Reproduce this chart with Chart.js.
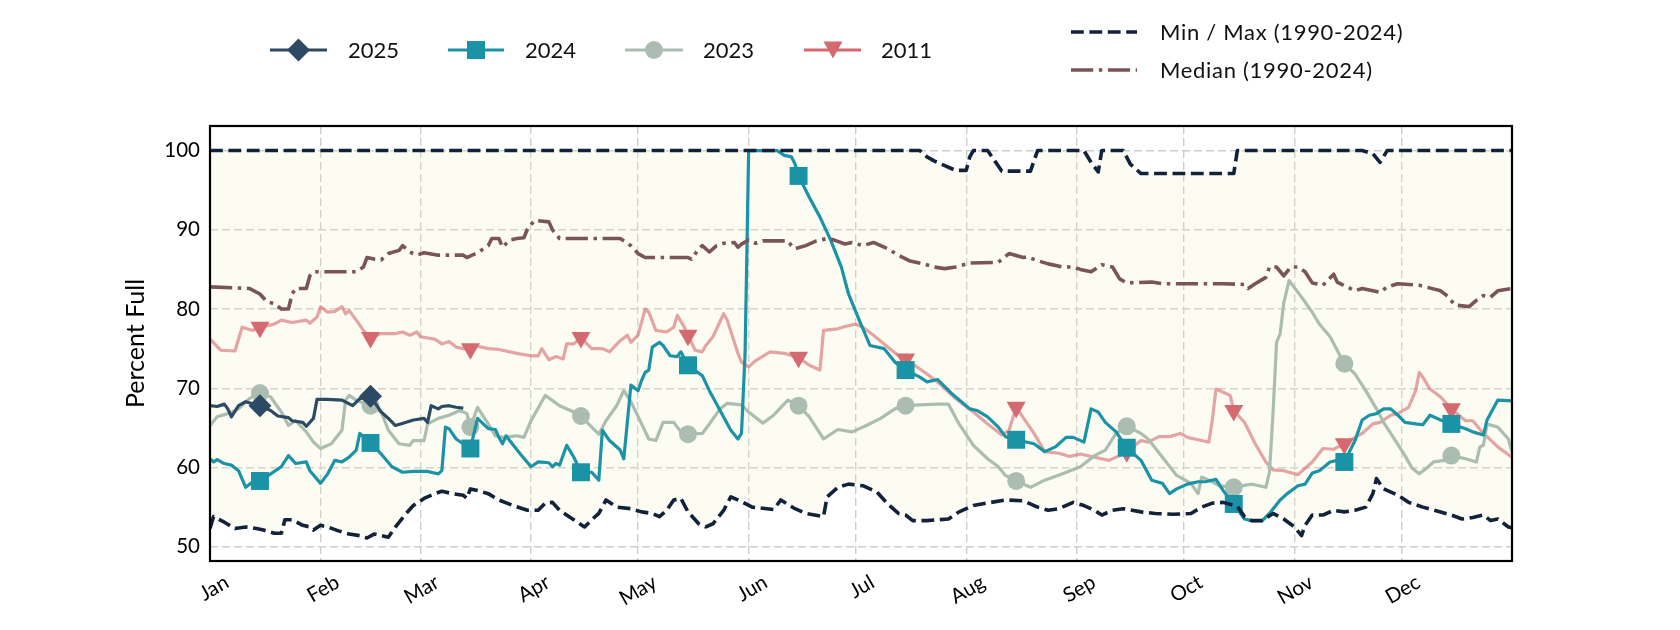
<!DOCTYPE html>
<html>
<head>
<meta charset="utf-8">
<script src="https://cdn.jsdelivr.net/npm/chart.js@4.4.1/dist/chart.umd.min.js"></script>
<style>
  html, body { margin: 0; padding: 0; background: #fff; }
  #wrap { position: relative; width: 1680px; height: 630px; font-family: Lato, sans-serif; }
  #canvas { position: absolute; left: 0; top: 0; }
  #sym { position: absolute; left: 0; top: 0; }
  .lg { position: absolute; font-size: 22px; line-height: 26px; color: #111; white-space: nowrap; }
  .wide { letter-spacing: 0.7px; }
</style>
</head>
<body>
<div id="wrap">
  <canvas id="canvas" width="1680" height="630"></canvas>
  <svg id="sym" width="1680" height="100">
    <line x1="270" y1="50" x2="327" y2="50" stroke="#2c4a63" stroke-width="3.2"/>
    <polygon points="298.5,38.5 310,50 298.5,61.5 287,50" fill="#2c4a63"/>
    <line x1="448" y1="50" x2="504" y2="50" stroke="#1b93a6" stroke-width="3.2"/>
    <rect x="467" y="41" width="18" height="18" fill="#1b93a6"/>
    <line x1="625" y1="50" x2="683" y2="50" stroke="#abbdb1" stroke-width="3.2"/>
    <circle cx="654" cy="50" r="9" fill="#abbdb1"/>
    <line x1="804" y1="50" x2="861" y2="50" stroke="#d4696f" stroke-width="3.2"/>
    <polygon points="823.5,41.5 842.5,41.5 833,58.5" fill="#d4696f"/>
    <line x1="1071" y1="32" x2="1137" y2="32" stroke="#12223a" stroke-width="3.6" stroke-dasharray="12.8 5.6"/>
    <line x1="1071" y1="70" x2="1137" y2="70" stroke="#7b5459" stroke-width="3.6" stroke-dasharray="22.2 5.6 3.5 5.6"/>
  </svg>
  <div class="lg" style="left:348px;top:37px">2025</div>
  <div class="lg" style="left:525px;top:37px">2024</div>
  <div class="lg" style="left:703px;top:37px">2023</div>
  <div class="lg" style="left:881px;top:37px">2011</div>
  <div class="lg wide" style="left:1160px;top:19px">Min / Max (1990-2024)</div>
  <div class="lg wide" style="left:1160px;top:57px">Median (1990-2024)</div>
</div>
<script>
// month ticks on a day-of-year axis
const monthStarts = [0, 31, 59, 90, 120, 151, 181, 212, 243, 273, 304, 334];
const monthLabels = ['Jan', 'Feb', 'Mar', 'Apr', 'May', 'Jun', 'Jul', 'Aug', 'Sep', 'Oct', 'Nov', 'Dec'];
const yTicks = [50, 60, 70, 80, 90, 100];
// markers sit on the 15th of each month
const markerDays = [14, 45, 73, 104, 134, 165, 195, 226, 257, 287, 318, 348];

// [day of year, percent full]
const maxLine = [[0,100],[199,100],[201,99.2],[203,98.7],[206,98.1],[209,97.5],[212,97.5],[213,99.2],[214,100],[218,100],[220,98.7],[222,97.4],[230,97.4],[232,100],[245,100],[247,98.5],[249,97.3],[250,100],[256,100],[258,98.3],[261,97.1],[287,97.1],[288,100],[323,100],[326,99.6],[328,98.5],[330,100],[365,100]];

const minLine = [[0,52.3],[1,53.8],[4,53.1],[7,52.3],[10,52.5],[13,52.3],[15,52.1],[18,51.7],[20,51.7],[21,53.4],[23,53.4],[26,52.7],[28,52.5],[29,52.1],[31,52.7],[33,52.5],[36,52.0],[39,51.6],[42,51.4],[44,51.1],[46,51.6],[48,51.4],[50,51.2],[52,52.5],[55,54.2],[57,55.2],[60,56.1],[63,56.7],[65,57.0],[68,56.7],[71,56.5],[72,56.1],[73,57.3],[75,57.1],[78,56.7],[81,55.9],[85,55.2],[89,54.6],[92,54.6],[94,55.5],[96,55.6],[98,54.6],[101,53.7],[105,52.5],[107,53.4],[109,54.2],[111,55.9],[114,55.0],[118,54.8],[121,54.4],[124,54.2],[126,53.8],[128,54.6],[130,55.9],[132,56.1],[134,54.4],[137,52.9],[139,52.5],[141,52.9],[144,54.6],[146,56.3],[149,55.7],[152,55.0],[158,54.7],[160,55.9],[164,54.8],[167,54.2],[172,53.8],[173,56.3],[176,57.5],[179,57.9],[183,57.7],[187,56.9],[190,55.4],[193,54.2],[195,54.0],[197,53.3],[201,53.3],[207,53.5],[210,54.4],[214,55.2],[219,55.6],[223,55.9],[228,55.8],[232,55.0],[235,54.6],[238,54.8],[242,55.6],[245,55.2],[248,54.6],[250,54.0],[253,54.6],[256,54.8],[261,54.4],[265,54.2],[270,54.1],[275,54.2],[278,55.0],[281,55.5],[284,55.6],[288,55.1],[290,53.8],[292,53.3],[295,53.3],[298,54.2],[301,53.5],[304,52.5],[306,51.4],[307,52.7],[309,54.0],[312,54.0],[315,54.6],[318,54.4],[321,54.6],[324,55.0],[326,56.7],[327,58.6],[329,57.3],[333,56.5],[336,55.6],[340,55.0],[344,54.5],[348,54.0],[351,53.5],[354,53.7],[357,54.0],[359,53.3],[361,53.5],[364,52.5],[365,52.4]];

const medianLine = [[0,82.8],[11,82.6],[14,81.9],[16,80.9],[18,80.7],[20,80.0],[22,80.0],[23,81.9],[24,82.6],[27,82.6],[28,84.2],[29,84.7],[41,84.7],[43,85.3],[44,86.5],[46,86.3],[48,86.2],[50,87.0],[53,87.4],[54,88.0],[56,87.2],[58,86.8],[60,87.1],[64,86.8],[68,86.8],[71,86.8],[72,86.5],[75,87.1],[78,88.0],[79,88.9],[81,88.9],[82,87.8],[84,88.7],[86,88.9],[88,89.0],[89,90.1],[91,91.2],[95,91.0],[96,90.0],[98,88.9],[109,88.9],[115,88.9],[118,88.0],[120,87.0],[122,86.5],[127,86.5],[134,86.5],[135,86.3],[137,87.6],[138,88.0],[140,87.2],[142,88.0],[144,88.3],[147,88.4],[148,87.8],[149,88.2],[151,88.7],[153,88.3],[155,88.6],[162,88.6],[163,88.0],[164,87.6],[167,88.0],[170,88.6],[173,88.9],[175,88.7],[178,88.2],[180,88.4],[183,88.0],[186,88.4],[190,87.6],[193,86.8],[196,86.1],[200,85.7],[203,85.3],[206,85.1],[209,85.3],[213,85.8],[221,85.9],[224,87.0],[228,86.5],[229,86.6],[232,86.1],[235,85.7],[239,85.3],[242,85.3],[244,85.0],[247,84.7],[250,85.6],[253,85.3],[255,83.8],[257,83.3],[264,83.4],[267,83.2],[284,83.2],[290,83.1],[291,82.6],[293,83.2],[296,84.0],[297,85.3],[299,85.3],[301,84.2],[303,85.3],[305,85.3],[307,84.7],[309,83.3],[312,83.0],[315,84.4],[316,83.4],[321,82.3],[323,82.6],[326,82.3],[328,82.1],[330,82.8],[333,83.2],[339,83.0],[345,82.3],[347,81.6],[349,80.5],[353,80.3],[355,81.1],[357,81.7],[359,81.5],[361,82.3],[365,82.6]];

const y2025 = [[0,67.8],[2,67.7],[4,68.0],[5,67.4],[6,66.4],[8,67.8],[10,68.3],[14,67.8],[17,67.2],[19,66.5],[22,66.3],[23,65.9],[26,65.7],[27,65.2],[29,66.2],[30,68.6],[33,68.6],[37,68.5],[40,67.8],[42,68.7],[45,69.0],[48,67.0],[50,66.2],[52,65.3],[55,65.7],[57,66.0],[60,66.2],[61,65.7],[62,67.8],[64,67.4],[65,67.7],[67,67.8],[69,67.6],[71,67.5]];

const y2024 = [[0,61.1],[1,60.7],[2,61.0],[4,60.5],[6,60.3],[8,59.6],[10,57.5],[12,58.2],[14,58.3],[17,59.2],[20,60.1],[22,61.5],[24,60.5],[27,60.7],[28,59.6],[31,58.0],[33,59.2],[35,60.9],[37,60.7],[39,61.3],[41,62.2],[42,64.3],[45,63.1],[48,61.7],[51,60.1],[54,59.4],[57,59.5],[61,59.5],[64,59.2],[65,59.6],[66,65.1],[67,64.9],[69,63.6],[71,63.0],[73,62.4],[75,66.2],[78,64.9],[80,64.8],[81,63.8],[82,63.0],[83,64.0],[84,63.4],[87,61.7],[90,60.1],[92,60.7],[95,60.6],[96,60.1],[97,60.5],[98,60.3],[100,62.8],[102,61.3],[104,59.4],[107,59.4],[109,58.4],[110,64.7],[112,63.4],[115,62.2],[116,61.1],[118,70.4],[120,69.7],[121,71.0],[122,72.0],[123,72.3],[124,75.2],[126,75.8],[127,75.4],[129,74.1],[131,74.0],[132,74.6],[134,72.9],[138,71.6],[140,69.7],[143,67.2],[146,64.7],[148,63.6],[149,64.3],[150,74.4],[150.5,87],[151,100],[159,100],[161,99.4],[163,99.2],[164,98.3],[165,96.8],[168,94.1],[171,91.6],[174,88.7],[177,85.3],[179,81.9],[182,78.6],[184,76.5],[185,75.4],[189,75.0],[192,73.3],[195,72.3],[199,71.4],[201,70.8],[204,71.1],[208,69.3],[213,67.4],[215,67.2],[218,66.4],[221,65.1],[223,63.9],[226,63.5],[231,63.0],[234,62.0],[237,62.6],[240,63.8],[242,63.8],[245,63.2],[247,67.4],[249,67.0],[251,65.7],[254,64.5],[257,62.5],[261,60.9],[264,58.4],[267,58.0],[269,56.7],[271,57.3],[274,57.9],[277,58.2],[279,58.2],[282,58.5],[284,57.1],[287,55.4],[290,53.5],[292,53.3],[295,53.3],[297,54.2],[300,55.9],[302,56.7],[305,57.7],[307,57.9],[309,59.3],[311,59.6],[314,60.7],[316,60.9],[318,60.7],[321,63.4],[323,66.0],[325,66.6],[327,66.8],[329,67.4],[331,67.4],[333,66.6],[335,65.7],[338,65.5],[340,65.4],[342,66.6],[345,66.0],[348,65.5],[352,64.9],[354,64.5],[357,64.1],[358,66.0],[361,68.5],[365,68.4]];

const y2023 = [[0,65.3],[2,66.4],[5,66.8],[8,67.4],[11,68.7],[14,69.4],[17,68.9],[20,67.0],[22,65.3],[24,65.9],[27,64.5],[29,63.2],[31,62.4],[34,63.0],[37,64.7],[38,68.5],[39,69.1],[41,68.5],[45,67.8],[48,67.0],[50,64.7],[53,63.0],[56,62.8],[57,63.4],[60,63.4],[61,65.5],[64,66.2],[67,66.6],[70,67.2],[72,66.8],[73,65.1],[75,67.6],[78,65.5],[80,64.0],[82,63.8],[86,64.0],[88,63.8],[90,65.9],[94,69.1],[98,67.8],[102,67.0],[104,66.5],[107,65.1],[109,64.2],[111,65.9],[114,67.8],[116,69.7],[118,68.3],[121,65.5],[123,63.6],[125,63.4],[127,65.7],[130,65.7],[132,64.5],[134,64.2],[138,64.3],[140,65.5],[143,67.4],[145,68.1],[149,67.9],[151,67.0],[155,65.6],[158,66.6],[162,68.5],[165,67.8],[168,66.4],[172,63.6],[176,64.8],[180,64.5],[184,65.3],[188,66.2],[192,67.4],[195,67.8],[199,67.9],[204,68.0],[207,68.0],[210,65.5],[214,62.8],[218,61.1],[221,60.1],[223,59.0],[226,58.3],[230,57.5],[234,58.4],[239,59.2],[244,60.1],[248,61.5],[251,62.2],[254,64.3],[257,65.2],[261,64.3],[263,63.6],[267,61.3],[271,59.0],[275,58.0],[277,56.7],[278,58.8],[280,58.4],[283,57.7],[287,57.5],[292,57.9],[296,57.5],[297,59.4],[298,66.8],[299,75.8],[300,76.9],[301,80.7],[302.5,83.6],[306,81.5],[309,79.6],[311,78.1],[314,76.5],[316,74.8],[318,73.1],[321,71.8],[324,69.7],[327,67.4],[329,65.7],[332,63.6],[335,61.5],[337,59.9],[339,59.2],[341,59.9],[343,60.7],[346,60.9],[348,61.5],[352,61.1],[355,60.7],[356,62.6],[357,62.8],[358,65.5],[361,65.1],[364,63.6],[365,61.9]];

const y2011 = [[0,76.2],[3,74.8],[7,74.7],[9,77.7],[12,77.3],[14,77.7],[18,78.1],[20,78.6],[23,78.3],[27,78.6],[28,78.2],[30,79.0],[31,80.3],[33,79.6],[35,79.7],[37,80.3],[38,79.4],[39,79.8],[41,78.6],[43,77.3],[45,76.4],[48,76.9],[52,76.9],[54,77.1],[56,76.7],[58,77.1],[59,76.5],[63,76.2],[65,75.6],[67,75.9],[69,75.2],[71,75.0],[73,75.0],[74,75.4],[78,75.0],[81,74.9],[86,74.4],[90,74.1],[92,74.1],[93,75.0],[95,73.6],[97,74.0],[99,73.7],[100,75.6],[102,75.6],[104,76.4],[107,75.0],[110,75.0],[112,74.6],[115,76.0],[117,76.7],[118,75.8],[120,76.7],[122,80.0],[123,79.6],[125,77.3],[128,77.1],[130,77.7],[131,79.2],[133,77.7],[134,76.7],[136,74.8],[138,74.6],[139,75.4],[141,76.5],[144,79.4],[145,78.6],[148,74.4],[149,73.3],[151,72.7],[153,73.5],[157,74.6],[161,74.4],[165,73.9],[168,72.9],[171,72.3],[172,77.3],[176,77.5],[178,77.8],[181,78.1],[183,77.7],[186,76.7],[190,75.2],[193,74.1],[195,73.7],[201,71.8],[205,70.4],[209,68.7],[214,67.0],[218,65.5],[222,64.1],[224,64.7],[226,67.6],[231,64.3],[234,62.0],[238,61.8],[241,61.4],[244,61.7],[248,61.3],[252,60.9],[255,61.5],[257,62.0],[261,63.4],[263,63.2],[266,63.9],[269,63.9],[272,64.3],[274,63.8],[277,63.5],[280,63.2],[281,66.0],[282,69.9],[284,69.5],[286,69.1],[287,67.2],[290,65.7],[293,63.0],[296,60.7],[298,59.7],[301,59.6],[305,59.1],[307,59.9],[309,60.7],[312,62.4],[315,62.3],[318,63.0],[321,63.8],[323,64.3],[326,65.5],[328,65.7],[331,66.6],[333,66.8],[336,67.6],[338,69.7],[339,72.0],[340,71.4],[342,69.9],[345,68.9],[348,67.4],[352,65.9],[354,65.9],[357,64.3],[361,62.6],[365,61.3]];

let canvas = document.getElementById('canvas');

function xy(arr) {
  return arr.map(p => ({ x: p[0], y: p[1] }));
}
// only draw a marker where the point falls on a marker day
function mark(r) {
  return c => (c.raw && markerDays.includes(c.raw.x)) ? r : 0;
}

// black box round the plot, like the axes spines
const frame = {
  id: 'frame',
  afterDatasetsDraw(chart) {
    const a = chart.chartArea, ctx = chart.ctx;
    ctx.save();
    ctx.strokeStyle = '#000';
    ctx.lineWidth = 2.2;
    ctx.strokeRect(a.left, a.top, a.right - a.left, a.bottom - a.top);
    ctx.restore();
  }
};

Chart.defaults.font.family = 'Lato, sans-serif';

const gridOpts = { color: '#cdcdcd', lineWidth: 1.4, drawTicks: false };
const borderOpts = { display: false, dash: [8, 4] };

new Chart(canvas, {
  type: 'line',
  data: {
    datasets: [
      { label: 'Max', data: xy(maxLine), borderColor: '#12223a', borderWidth: 3.6, borderDash: [12.8, 5.6],
        pointRadius: 0, fill: '+1', backgroundColor: 'rgba(240,240,190,0.2)' },
      { label: 'Min', data: xy(minLine), borderColor: '#12223a', borderWidth: 3.6, borderDash: [12.8, 5.6],
        pointRadius: 0, fill: false },
      { label: 'Median', data: xy(medianLine), borderColor: '#7b5459', borderWidth: 3.6, borderDash: [22.2, 5.6, 3.5, 5.6],
        pointRadius: 0, fill: false },
      { label: '2025', data: xy(y2025), borderColor: '#2c4a63', borderWidth: 3.2, fill: false,
        pointStyle: 'rectRot', pointRadius: mark(11.5), pointBackgroundColor: '#2c4a63', pointBorderWidth: 0 },
      { label: '2024', data: xy(y2024), borderColor: '#1b93a6', borderWidth: 3.2, fill: false,
        pointStyle: 'rect', pointRadius: mark(12.7), pointBackgroundColor: '#1b93a6', pointBorderWidth: 0 },
      { label: '2023', data: xy(y2023), borderColor: '#abbdb1', borderWidth: 3.2, fill: false,
        pointStyle: 'circle', pointRadius: mark(9), pointBackgroundColor: '#abbdb1', pointBorderWidth: 0 },
      { label: '2011', data: xy(y2011), borderColor: 'rgba(212,105,111,0.6)', borderWidth: 3.2, fill: false,
        pointStyle: 'triangle', pointRotation: 180, pointRadius: mark(11), pointBackgroundColor: '#d4696f', pointBorderWidth: 0 }
    ]
  },
  options: {
    responsive: false,
    animation: false,
    events: [],
    layout: { padding: { left: 0, top: 126, right: 168, bottom: 0 } },
    elements: { line: { tension: 0, borderJoinStyle: 'round' } },
    plugins: {
      legend: { display: false },
      tooltip: { enabled: false },
      filler: { drawTime: 'beforeDatasetsDraw' }
    },
    scales: {
      x: {
        type: 'linear', min: 0, max: 365,
        afterBuildTicks: axis => { axis.ticks = monthStarts.map(v => ({ value: v })); },
        afterFit: s => { s.height = 69; },
        ticks: {
          autoSkip: false, minRotation: 30, maxRotation: 30, padding: 9, labelOffset: 17,
          color: '#000', font: { size: 20.5 },
          callback: v => monthLabels[monthStarts.indexOf(v)]
        },
        grid: gridOpts,
        border: borderOpts
      },
      y: {
        min: 48.2, max: 103.1,
        afterBuildTicks: axis => { axis.ticks = yTicks.map(v => ({ value: v })); },
        afterFit: s => { s.width = 210; },
        ticks: { padding: 10, color: '#000', font: { size: 20.5 } },
        grid: gridOpts,
        border: borderOpts,
        title: { display: true, text: 'Percent Full', color: '#000', font: { size: 25 }, padding: { top: 121, bottom: 0 } }
      }
    }
  },
  plugins: [frame]
});
</script>
</body>
</html>
